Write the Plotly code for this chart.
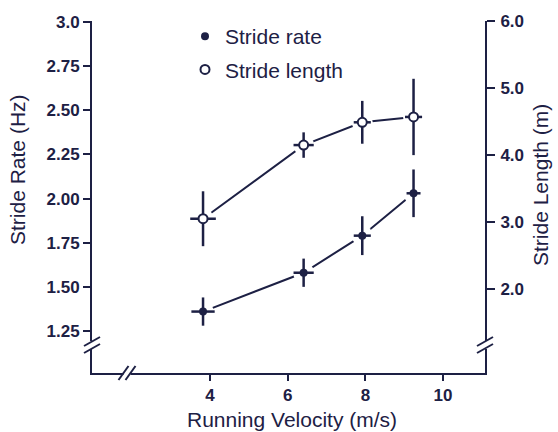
import plotly.graph_objects as go

# ---- data ----
velocity = [3.82, 6.41, 7.92, 9.24]            # running velocity (m/s)
velocity_err_rate = [0.30, 0.26, 0.22, 0.18]   # horizontal error, stride rate points
velocity_err_length = [0.33, 0.26, 0.22, 0.22] # horizontal error, stride length points
stride_rate = [1.36, 1.58, 1.79, 2.03]         # Hz
stride_rate_err = [0.08, 0.08, 0.11, 0.135]
stride_length = [3.05, 4.15, 4.49, 4.57]       # m
stride_length_err = [0.41, 0.19, 0.32, 0.57]

x_ticks = [4, 6, 8, 10]
left_ticks = [1.25, 1.50, 1.75, 2.00, 2.25, 2.50, 2.75, 3.0]
left_ticktext = ["1.25", "1.50", "1.75", "2.00", "2.25", "2.50", "2.75", "3.0"]
right_ticks = [2.0, 3.0, 4.0, 5.0, 6.0]
right_ticktext = ["2.0", "3.0", "4.0", "5.0", "6.0"]

INK = "#1d2044"
FONT = "Liberation Sans, Arial, sans-serif"

W, H = 558, 432
ML, MR, MT, MB = 92, 73, 21, 59
PW, PH = W - ML - MR, H - MT - MB


def px(xp):
    return (xp - ML) / PW


def py(yp):
    return (H - MB - yp) / PH


fig = go.Figure()

for yvals, xerr, yerr, axis, name, filled in [
    (stride_rate, velocity_err_rate, stride_rate_err, "y", "Stride rate", True),
    (stride_length, velocity_err_length, stride_length_err, "y2", "Stride length", False),
]:
    # connecting line
    fig.add_trace(go.Scatter(x=velocity, y=yvals, yaxis=axis, mode="lines",
                             line=dict(color=INK, width=2), showlegend=False,
                             hoverinfo="skip"))
    # white halo that leaves a small gap between line and point
    fig.add_trace(go.Scatter(x=velocity, y=yvals, yaxis=axis, mode="markers",
                             marker=dict(size=21, color="white"), showlegend=False,
                             hoverinfo="skip"))
    # points with error bars
    fig.add_trace(go.Scatter(
        x=velocity, y=yvals, yaxis=axis, mode="markers", name=name,
        legendgroup=name,
        marker=dict(symbol="circle", size=8 if filled else 9,
                    color=INK if filled else "white",
                    line=dict(color=INK, width=0 if filled else 2)),
        error_x=dict(type="data", array=xerr, color=INK, thickness=2.5, width=0),
        error_y=dict(type="data", array=yerr, color=INK, thickness=2.5, width=0),
    ))

axis_common = dict(showline=True, linecolor=INK, linewidth=2, ticks="outside",
                   tickcolor=INK, tickwidth=2, showgrid=False, zeroline=False,
                   tickfont=dict(family=FONT, size=17, color=INK, weight="bold"))

fig.update_layout(
    width=W, height=H,
    margin=dict(l=ML, r=MR, t=MT, b=MB),
    plot_bgcolor="white", paper_bgcolor="white",
    font=dict(family=FONT, color=INK),
    xaxis=dict(range=[0.961, 11.08], tickvals=x_ticks, ticklen=6,
               ticklabelstandoff=0, **axis_common),
    yaxis=dict(range=[1.012, 3.006], tickvals=left_ticks, ticktext=left_ticktext,
               ticklen=7, ticklabelstandoff=0, **axis_common),
    yaxis2=dict(range=[0.746, 6.003], tickvals=right_ticks, ticktext=right_ticktext,
                overlaying="y", side="right", ticklen=8, ticklabelstandoff=2,
                **axis_common),
    showlegend=True,
    legend=dict(x=px(185), y=py(16), xanchor="left", yanchor="top",
                bgcolor="rgba(0,0,0,0)", font=dict(family=FONT, size=21, color=INK),
                traceorder="grouped", tracegroupgap=3, itemwidth=30),
)

# axis titles
fig.add_annotation(text="Running Velocity (m/s)", xref="paper", yref="paper",
                   x=px(292), y=py(419), xanchor="center", yanchor="middle",
                   showarrow=False, font=dict(family=FONT, size=21, color=INK))
fig.add_annotation(text="Stride Rate (Hz)", xref="paper", yref="paper",
                   x=px(17), y=py(170), xanchor="center", yanchor="middle",
                   showarrow=False, textangle=-90,
                   font=dict(family=FONT, size=21, color=INK))
fig.add_annotation(text="Stride Length (m)", xref="paper", yref="paper",
                   x=px(540), y=py(185), xanchor="center", yanchor="middle",
                   showarrow=False, textangle=-90,
                   font=dict(family=FONT, size=21, color=INK))

# axis break marks (decoration)
def vbreak(xc, yc):
    fig.add_shape(type="line", xref="paper", yref="paper",
                  x0=px(xc), x1=px(xc), y0=py(yc - 4), y1=py(yc + 4),
                  line=dict(color="white", width=4))
    for dy in (-3.5, 3.5):
        fig.add_shape(type="line", xref="paper", yref="paper",
                      x0=px(xc - 8), y0=py(yc + dy + 4.5),
                      x1=px(xc + 8), y1=py(yc + dy - 4.5),
                      line=dict(color=INK, width=2))


def hbreak(xc, yc):
    fig.add_shape(type="line", xref="paper", yref="paper",
                  x0=px(xc - 3.5), x1=px(xc + 3.5), y0=py(yc), y1=py(yc),
                  line=dict(color="white", width=4))
    for dx in (-3.5, 3.5):
        fig.add_shape(type="line", xref="paper", yref="paper",
                      x0=px(xc + dx - 5), y0=py(yc + 7),
                      x1=px(xc + dx + 5), y1=py(yc - 7),
                      line=dict(color=INK, width=2))


vbreak(ML, 345)
vbreak(ML + PW, 345)
hbreak(127, H - MB)

fig.write_html("out.html",
               config={"displayModeBar": False},
               post_script="document.body.style.margin='0px';")
